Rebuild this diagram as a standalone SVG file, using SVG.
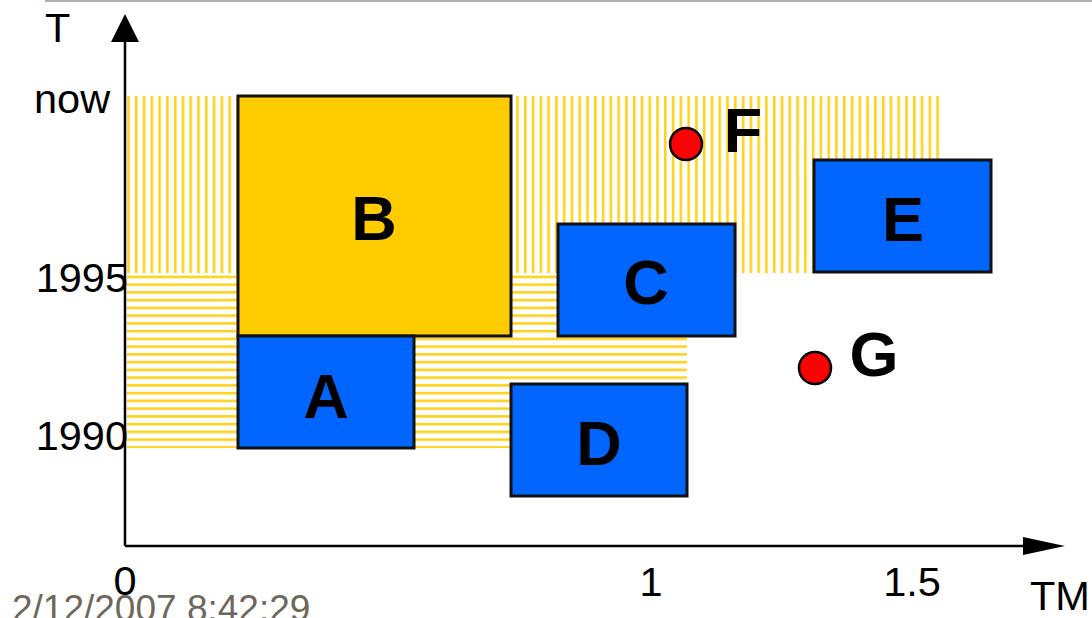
<svg xmlns="http://www.w3.org/2000/svg" width="1092" height="618" viewBox="0 0 1092 618">
  <style>
    .axis { stroke: #000; stroke-width: 2.5; fill: none; }
    .tick { font-family: "Liberation Sans", Arial, sans-serif; font-size: 41.5px; fill: #000; }
    .box { stroke: #111; stroke-width: 3; }
    .blue { fill: #0066FF; }
    .gold { fill: #FFCC00; }
    .dot { fill: #FF0000; stroke: #000; stroke-width: 2.5; }
    .lbl { font-family: "Liberation Sans", Arial, sans-serif; font-size: 63px; font-weight: bold; fill: #000; text-anchor: middle; }
  </style>
  <defs>
    <pattern id="vHatch" patternUnits="userSpaceOnUse" x="127.2" y="0" width="7.78" height="10">
      <rect x="0" y="0" width="2.6" height="10" fill="#FFD21F"/>
    </pattern>
    <pattern id="hHatch" patternUnits="userSpaceOnUse" x="0" y="275.6" width="10" height="7.75">
      <rect x="0" y="0" width="10" height="2.6" fill="#FFD21F"/>
    </pattern>
    <marker id="arrow" viewBox="0 0 42 18" refX="2" refY="9" markerUnits="userSpaceOnUse" markerWidth="42" markerHeight="18" orient="auto">
      <path d="M0,0 L42,9 L0,18 Z" fill="#000"/>
    </marker>
    <marker id="arrowUp" viewBox="0 0 28 28" refX="2" refY="14" markerUnits="userSpaceOnUse" markerWidth="28" markerHeight="28" orient="auto">
      <path d="M0,0 L28,14 L0,28 Z" fill="#000"/>
    </marker>
  </defs>

  <rect width="1092" height="618" fill="#fff"/>
  <line x1="45" y1="1" x2="1092" y2="1" stroke="#b0b0b0" stroke-width="2"/>

  <!-- hatched validity bands -->
  <g id="bands">
    <rect x="127" y="96" width="816" height="177" fill="url(#vHatch)"/>
    <rect x="127" y="273" width="560" height="175" fill="url(#hHatch)"/>
  </g>

  <!-- axes -->
  <g id="connectors">
    <line class="axis" x1="125" y1="546" x2="125" y2="40" marker-end="url(#arrowUp)"/>
    <line class="axis" x1="125" y1="546" x2="1025" y2="546" marker-end="url(#arrow)"/>
  </g>

  <g id="axis-labels">
    <text class="tick" x="45" y="42">T</text>
    <text class="tick" x="34" y="113">now</text>
    <text class="tick" x="128" y="292" text-anchor="end">1995</text>
    <text class="tick" x="128" y="450" text-anchor="end">1990</text>
    <text class="tick" x="125" y="595" text-anchor="middle">0</text>
    <text class="tick" x="651" y="596" text-anchor="middle">1</text>
    <text class="tick" x="912" y="596" text-anchor="middle">1.5</text>
    <text class="tick" x="1030" y="610">TM</text>
  </g>

  <g id="nodeB">
    <rect class="box gold" x="238" y="96" width="273" height="240"/>
    <text class="lbl" x="374" y="240">B</text>
  </g>
  <g id="nodeA">
    <rect class="box blue" x="238" y="336" width="176" height="112"/>
    <text class="lbl" x="326" y="418">A</text>
  </g>
  <g id="nodeC">
    <rect class="box blue" x="558" y="224" width="177" height="112"/>
    <text class="lbl" x="646" y="304">C</text>
  </g>
  <g id="nodeD">
    <rect class="box blue" x="511" y="384" width="176" height="112"/>
    <text class="lbl" x="599" y="465">D</text>
  </g>
  <g id="nodeE">
    <rect class="box blue" x="814" y="160" width="177" height="112"/>
    <text class="lbl" x="903" y="241">E</text>
  </g>
  <g id="nodeF">
    <circle class="dot" cx="686" cy="144" r="16"/>
    <text class="lbl" x="743" y="152">F</text>
  </g>
  <g id="nodeG">
    <circle class="dot" cx="815" cy="368" r="16"/>
    <text class="lbl" x="874" y="376">G</text>
  </g>

  <text x="12" y="621" font-family="Liberation Sans, Arial, sans-serif" font-size="37" fill="#6e675c">2/12/2007 8:42:29</text>
</svg>
